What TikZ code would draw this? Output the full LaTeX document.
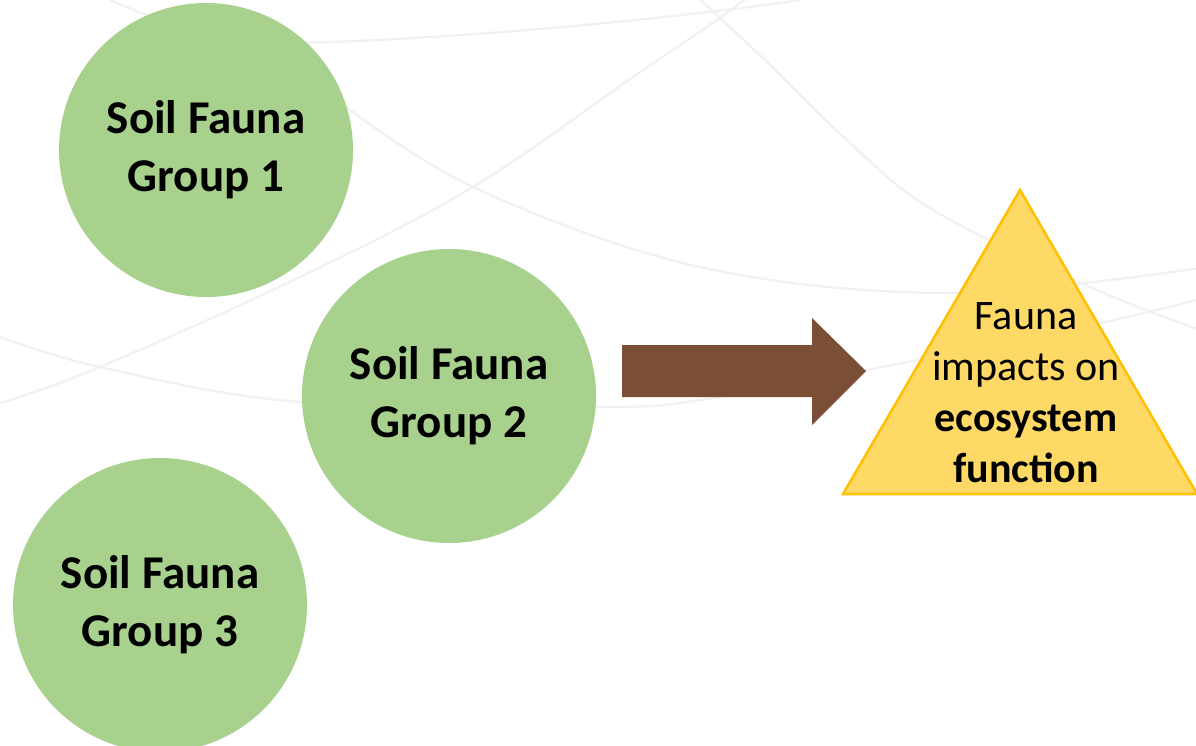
\documentclass[tikz,border=0pt]{standalone}
\usepackage{fontspec}
\setmainfont{Carlito}
\definecolor{faunagreen}{RGB}{169,209,142}
\definecolor{arrowbrown}{RGB}{123,79,54}
\definecolor{trifill}{RGB}{255,217,102}
\definecolor{triborder}{RGB}{255,192,0}
\definecolor{bgcurve}{RGB}{241,241,241}
\tikzset{
  bgline/.style={draw=bgcurve, line width=2.2pt},
  fauna/.style={circle, fill=faunagreen, minimum size=294pt, inner sep=0pt,
    align=center, font=\bfseries\fontsize{47}{58}\selectfont},
  tritext/.style={align=center, inner sep=0pt, font=\fontsize{42}{51}\selectfont},
}
\begin{document}
\begin{tikzpicture}[x=1pt, y=-1pt]
\useasboundingbox (0,0) rectangle (1196,746);
\clip (0,0) rectangle (1196,746);
\fill[white] (0,0) rectangle (1196,746);

% faint sweeping lines in the background
\draw[bgline] (110,0) .. controls (200,40) and (260,44) .. (330,42)
  .. controls (500,36) and (700,15) .. (800,0);
\draw[bgline] plot[smooth, tension=0.6] coordinates
  {(330,95) (473,187) (700,267) (950,293) (1200,268)};
\draw[bgline] plot[smooth, tension=0.6] coordinates
  {(-5,405) (100,367) (300,277) (473,187) (633,77) (717,20) (750,-5)};
\draw[bgline] plot[smooth, tension=0.6] coordinates
  {(-5,335) (100,367) (300,402) (600,407) (700,400) (867,370) (1100,323) (1200,299)};
\draw[bgline] plot[smooth, tension=0.6] coordinates
  {(695,-5) (767,62) (850,143) (933,210) (1090,287) (1200,330)};

% soil fauna groups
\node[fauna] (g1) at (206,150) {Soil Fauna\\Group 1};
\node[fauna] (g2) at (449,396) {Soil Fauna\\Group 2};
\node[fauna] (g3) at (160,605) {Soil Fauna\\Group 3};

% block arrow towards the outcome
\coordinate (tail) at (622,371);
\coordinate (tip) at (866,371);
\fill[arrowbrown] (tail) ++(0,-26) -- ++(190,0) -- ++(0,-27) -- (tip)
  -- ++(-54,54) -- ++(0,-28) -- ++(-190,0) -- cycle;

% outcome triangle
\filldraw[fill=trifill, draw=triborder, line width=2.5pt, line join=miter]
  (1020,190) -- (843,494) -- (1197,494) -- cycle;
\node[tritext] (impact) at (1026,393)
  {Fauna\\impacts on\\\textbf{ecosystem}\\\textbf{function}};
\end{tikzpicture}
\end{document}
